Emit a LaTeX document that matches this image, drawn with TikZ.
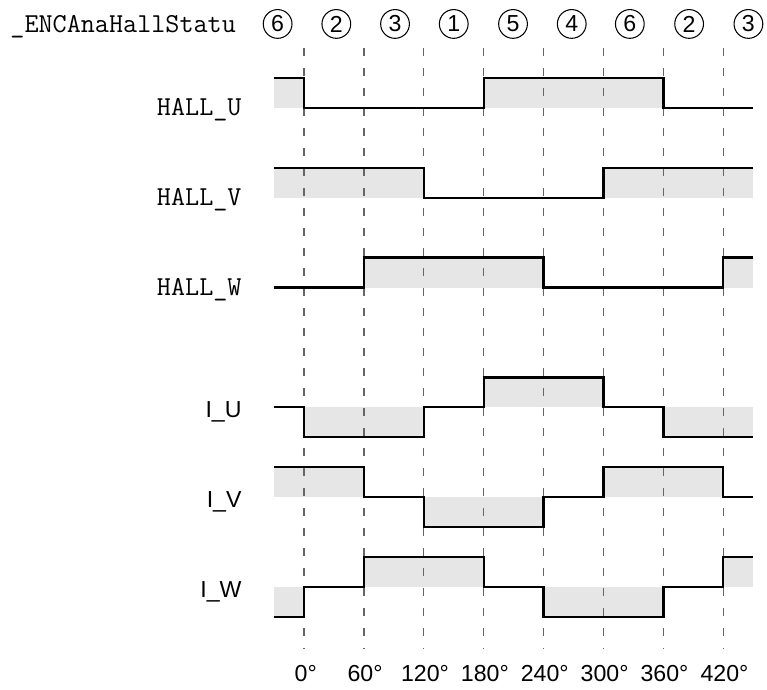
\documentclass[tikz,border=0pt]{standalone}
\usepackage{fontspec}
\setmainfont{Liberation Sans}
\usepackage{tikz}
\definecolor{bandgray}{RGB}{230,230,231}

\begin{document}
\begin{tikzpicture}
	\tikzstyle{state}=[circle,draw=black,line width=0.5pt,minimum size=0.48cm,inner sep=0pt,font=\fontsize{11}{13}\selectfont]
	\tikzstyle{band}=[fill=bandgray,draw=none]
	\tikzstyle{wave}=[line width=1.1pt,black]
	\tikzstyle{gridline}=[line width=0.6pt,black!60,dash pattern=on 3.8pt off 5.7pt]
	\tikzstyle{halllabel}=[anchor=base east,inner sep=0pt,font=\ttfamily\fontsize{13}{15}\selectfont]
	\tikzstyle{curlabel}=[anchor=base east,inner sep=0pt,font=\fontsize{11}{13}\selectfont]
	\tikzstyle{deglabel}=[anchor=base,inner sep=0pt,font=\fontsize{11}{13}\selectfont]
	\useasboundingbox (-5.075,-1.703) rectangle (7.730,9.80);
	% hall states
	\node[anchor=base west,inner sep=0pt,font=\ttfamily\fontsize{13}{15}\selectfont](title) at (-4.908,9.25) {\_ENCAnaHallStatu};
	\node[state](s1) at (-0.44,9.40) {6};
	\node[state](s2) at (0.54,9.40) {2};
	\node[state](s3) at (1.52,9.40) {3};
	\node[state](s4) at (2.50,9.40) {1};
	\node[state](s5) at (3.49,9.40) {5};
	\node[state](s6) at (4.47,9.40) {4};
	\node[state](s7) at (5.44,9.40) {6};
	\node[state](s8) at (6.43,9.40) {2};
	\node[state](s9) at (7.42,9.40) {3};
	% signal names
	\node[halllabel](hu) at (-1.035,7.866) {HALL\_U};
	\node[halllabel](hv) at (-1.035,6.366) {HALL\_V};
	\node[halllabel](hw) at (-1.035,4.866) {HALL\_W};
	\node[curlabel](iu) at (-1.035,2.833) {I\_U};
	\node[curlabel](iv) at (-1.035,1.333) {I\_V};
	\node[curlabel](iw) at (-1.035,-0.167) {I\_W};
	% grey bands
	\path[band] (-0.5,8) rectangle (0,8.5);
	\path[band] (3,8) rectangle (6,8.5);
	\path[band] (-0.5,6.5) rectangle (2,7);
	\path[band] (5,6.5) rectangle (7.5,7);
	\path[band] (1,5) rectangle (4,5.5);
	\path[band] (7,5) rectangle (7.5,5.5);
	\path[band] (0,2.5) rectangle (2,3);
	\path[band] (3,3) rectangle (5,3.5);
	\path[band] (6,2.5) rectangle (7.5,3);
	\path[band] (-0.5,1.5) rectangle (1,2);
	\path[band] (2,1) rectangle (4,1.5);
	\path[band] (5,1.5) rectangle (7,2);
	\path[band] (-0.5,-0.5) rectangle (0,0);
	\path[band] (1,0) rectangle (3,0.5);
	\path[band] (4,-0.5) rectangle (6,0);
	\path[band] (7,0) rectangle (7.5,0.5);
	% angle grid
	\draw[gridline] (0,9.0) -- (0,-1.02);
	\draw[gridline] (1,9.0) -- (1,-1.02);
	\draw[gridline] (2,9.0) -- (2,-1.02);
	\draw[gridline] (3,9.0) -- (3,-1.02);
	\draw[gridline] (4,9.0) -- (4,-1.02);
	\draw[gridline] (5,9.0) -- (5,-1.02);
	\draw[gridline] (6,9.0) -- (6,-1.02);
	\draw[gridline] (7,9.0) -- (7,-1.02);
	\node[deglabel](d0) at (0.03,-1.586) {0°};
	\node[deglabel](d1) at (1.02,-1.586) {60°};
	\node[deglabel](d2) at (2.02,-1.586) {120°};
	\node[deglabel](d3) at (3.02,-1.586) {180°};
	\node[deglabel](d4) at (4.02,-1.586) {240°};
	\node[deglabel](d5) at (5.02,-1.586) {300°};
	\node[deglabel](d6) at (6.02,-1.586) {360°};
	\node[deglabel](d7) at (7.02,-1.586) {420°};
	% waveforms
	\draw[wave] (-0.5,8.5) -- (0,8.5) -- (0,8) -- (3,8) -- (3,8.5) -- (6,8.5) -- (6,8) -- (7.5,8);
	\draw[wave] (-0.5,7) -- (2,7) -- (2,6.5) -- (5,6.5) -- (5,7) -- (7.5,7);
	\draw[wave] (-0.5,5) -- (1,5) -- (1,5.5) -- (4,5.5) -- (4,5) -- (7,5) -- (7,5.5) -- (7.5,5.5);
	\draw[wave] (-0.5,3) -- (0,3) -- (0,2.5) -- (2,2.5) -- (2,3) -- (3,3) -- (3,3.5) -- (5,3.5) -- (5,3) -- (6,3) -- (6,2.5) -- (7.5,2.5);
	\draw[wave] (-0.5,2) -- (1,2) -- (1,1.5) -- (2,1.5) -- (2,1) -- (4,1) -- (4,1.5) -- (5,1.5) -- (5,2) -- (7,2) -- (7,1.5) -- (7.5,1.5);
	\draw[wave] (-0.5,-0.5) -- (0,-0.5) -- (0,0) -- (1,0) -- (1,0.5) -- (3,0.5) -- (3,0) -- (4,0) -- (4,-0.5) -- (6,-0.5) -- (6,0) -- (7,0) -- (7,0.5) -- (7.5,0.5);
\end{tikzpicture}
\end{document}
